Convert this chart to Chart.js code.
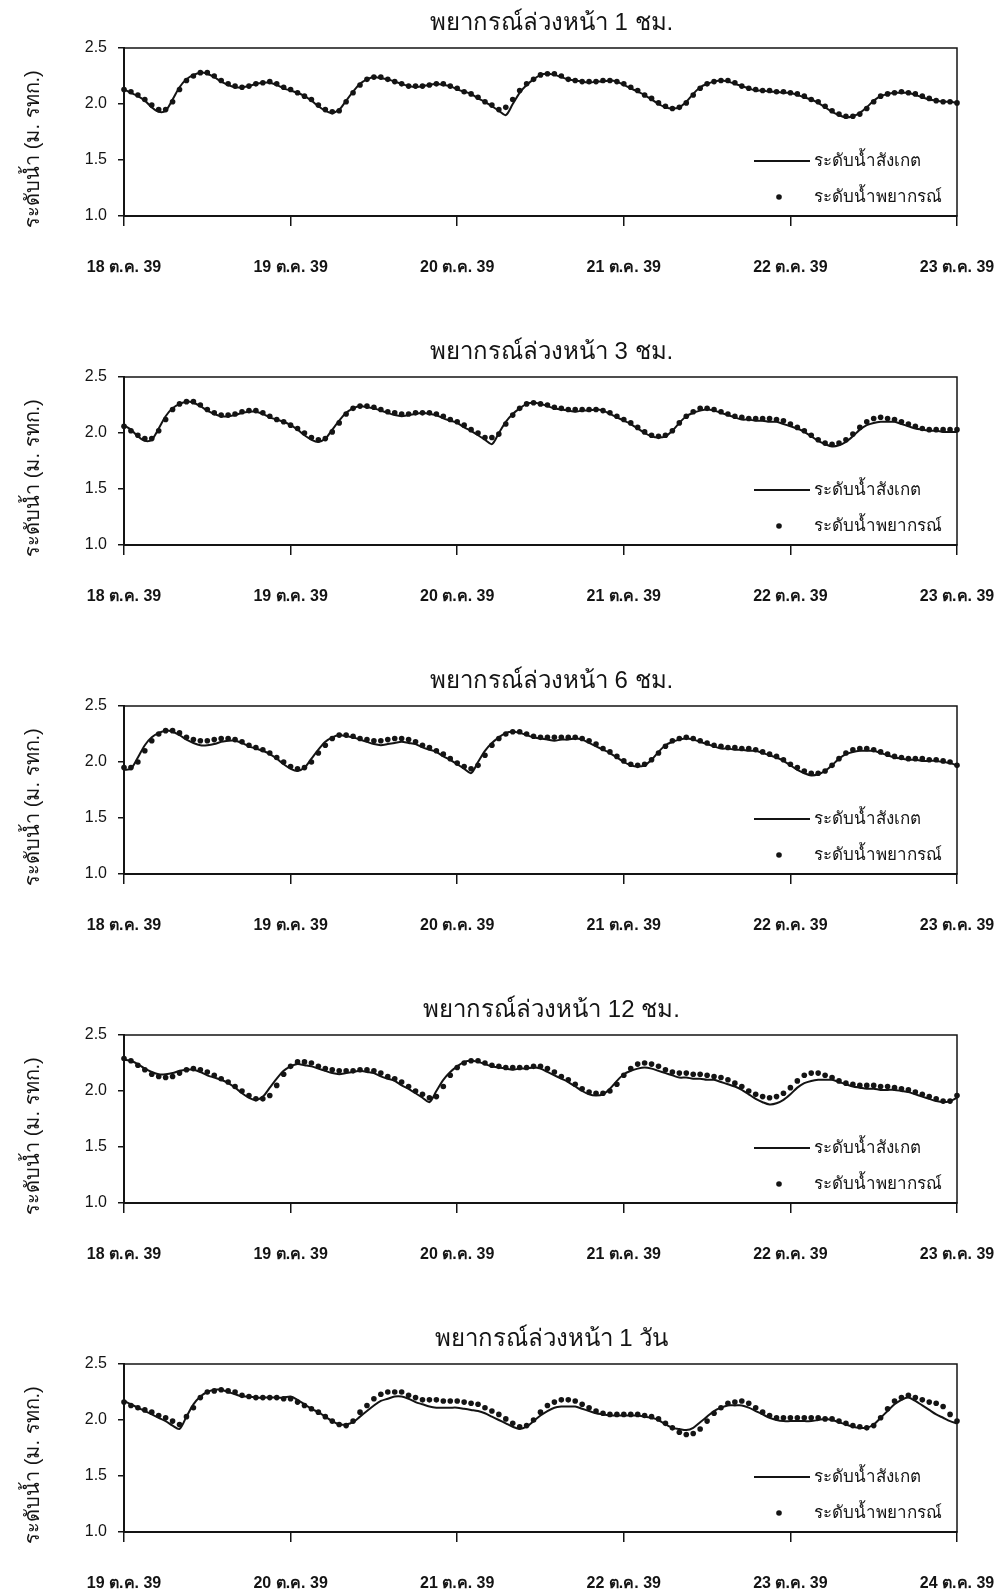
<!DOCTYPE html>
<html lang="th">
<head>
<meta charset="utf-8">
<title>ระดับน้ำสังเกตและพยากรณ์</title>
<script src="https://cdn.jsdelivr.net/npm/chart.js@4.4.1/dist/chart.umd.min.js"></script>
<style>
  body { margin: 0; background: #fff; }
  .panel { position: absolute; left: 0; width: 1008px; height: 329px; }
</style>
</head>
<body>
<div class="panel" style="top:0px"><canvas id="g1" width="1008" height="329"></canvas></div>
<div class="panel" style="top:329px"><canvas id="g2" width="1008" height="329"></canvas></div>
<div class="panel" style="top:658px"><canvas id="g3" width="1008" height="329"></canvas></div>
<div class="panel" style="top:987px"><canvas id="g4" width="1008" height="329"></canvas></div>
<div class="panel" style="top:1316px"><canvas id="g5" width="1008" height="329"></canvas></div>
<script>
// etiquetas de fecha (una por día, cada 24 horas)
const fechasA = ['18 ต.ค. 39', '19 ต.ค. 39', '20 ต.ค. 39', '21 ต.ค. 39', '22 ต.ค. 39', '23 ต.ค. 39'];
const fechasB = ['19 ต.ค. 39', '20 ต.ค. 39', '21 ต.ค. 39', '22 ต.ค. 39', '23 ต.ค. 39', '24 ต.ค. 39'];
const titulos = ['พยากรณ์ล่วงหน้า 1 ชม.', 'พยากรณ์ล่วงหน้า 3 ชม.', 'พยากรณ์ล่วงหน้า 6 ชม.', 'พยากรณ์ล่วงหน้า 12 ชม.', 'พยากรณ์ล่วงหน้า 1 วัน'];
const nombreObs = 'ระดับน้ำสังเกต';
const nombrePron = 'ระดับน้ำพยากรณ์';
const tituloY = 'ระดับน้ำ (ม. รทก.)';
const ticksY = [1.0, 1.5, 2.0, 2.5];

// valores horarios (121 puntos, 5 días)
const obs1 = [2.13,2.10,2.07,2.03,1.97,1.93,1.94,2.04,2.15,2.22,2.26,2.28,
  2.27,2.24,2.20,2.17,2.15,2.15,2.16,2.18,2.19,2.19,2.17,2.14,
  2.12,2.10,2.07,2.03,1.98,1.94,1.92,1.95,2.03,2.11,2.18,2.22,
  2.24,2.23,2.22,2.20,2.18,2.16,2.15,2.16,2.17,2.18,2.17,2.16,
  2.13,2.11,2.09,2.05,2.02,1.98,1.94,1.90,2.00,2.10,2.17,2.22,
  2.26,2.27,2.26,2.24,2.22,2.21,2.20,2.19,2.20,2.20,2.21,2.20,
  2.17,2.14,2.11,2.08,2.04,2.00,1.97,1.96,1.97,2.02,2.09,2.15,
  2.18,2.20,2.21,2.20,2.18,2.16,2.14,2.12,2.12,2.11,2.11,2.10,
  2.10,2.08,2.06,2.04,2.01,1.97,1.93,1.90,1.88,1.89,1.92,1.97,
  2.03,2.07,2.09,2.10,2.10,2.10,2.08,2.06,2.04,2.03,2.02,2.02,
  2.01];
const pron1 = [2.13,2.11,2.08,2.04,1.99,1.95,1.95,2.02,2.13,2.21,2.25,2.28,
  2.28,2.25,2.21,2.18,2.16,2.15,2.16,2.18,2.19,2.20,2.18,2.15,
  2.13,2.10,2.07,2.04,1.99,1.95,1.93,1.94,2.02,2.10,2.17,2.22,
  2.24,2.24,2.22,2.20,2.18,2.16,2.16,2.16,2.17,2.18,2.18,2.16,
  2.14,2.11,2.09,2.06,2.02,1.99,1.95,1.97,2.04,2.12,2.18,2.22,
  2.26,2.27,2.27,2.25,2.22,2.21,2.20,2.20,2.20,2.21,2.21,2.20,
  2.18,2.15,2.12,2.08,2.05,2.01,1.98,1.96,1.97,2.01,2.08,2.14,
  2.18,2.20,2.21,2.21,2.19,2.16,2.14,2.13,2.12,2.12,2.11,2.11,
  2.10,2.09,2.07,2.04,2.02,1.98,1.94,1.91,1.89,1.89,1.91,1.96,
  2.02,2.07,2.09,2.10,2.11,2.10,2.09,2.07,2.05,2.03,2.02,2.02,
  2.01];

const obs2 = [2.07,2.03,1.97,1.93,1.94,2.04,2.15,2.22,2.26,2.28,2.27,2.24,
  2.20,2.17,2.15,2.15,2.16,2.18,2.19,2.19,2.17,2.14,2.12,2.10,
  2.07,2.03,1.98,1.94,1.92,1.95,2.03,2.11,2.18,2.22,2.24,2.23,
  2.22,2.20,2.18,2.16,2.15,2.16,2.17,2.18,2.17,2.16,2.13,2.11,
  2.09,2.05,2.02,1.98,1.94,1.90,2.00,2.10,2.17,2.22,2.26,2.27,
  2.26,2.24,2.22,2.21,2.20,2.19,2.20,2.20,2.21,2.20,2.17,2.14,
  2.11,2.08,2.04,2.00,1.97,1.96,1.97,2.02,2.09,2.15,2.18,2.20,
  2.21,2.20,2.18,2.16,2.14,2.12,2.12,2.11,2.11,2.10,2.10,2.08,
  2.06,2.04,2.01,1.97,1.93,1.90,1.88,1.89,1.92,1.97,2.03,2.07,
  2.09,2.10,2.10,2.10,2.08,2.06,2.04,2.03,2.02,2.02,2.01,2.01,
  2.01];
const pron2 = [2.06,2.02,1.98,1.95,1.95,2.02,2.12,2.21,2.26,2.28,2.28,2.25,
  2.21,2.18,2.16,2.16,2.17,2.19,2.20,2.20,2.18,2.15,2.12,2.10,
  2.07,2.04,2.00,1.96,1.94,1.95,2.01,2.09,2.17,2.22,2.24,2.24,
  2.23,2.21,2.19,2.18,2.17,2.17,2.18,2.18,2.18,2.17,2.15,2.12,
  2.10,2.07,2.03,2.00,1.96,1.96,1.99,2.08,2.16,2.22,2.26,2.27,
  2.26,2.25,2.23,2.22,2.21,2.21,2.21,2.21,2.21,2.20,2.18,2.15,
  2.12,2.09,2.05,2.01,1.98,1.97,1.98,2.02,2.09,2.15,2.19,2.22,
  2.22,2.21,2.19,2.17,2.15,2.14,2.13,2.13,2.13,2.13,2.12,2.11,
  2.08,2.05,2.02,1.98,1.94,1.91,1.90,1.91,1.94,1.99,2.05,2.10,
  2.13,2.14,2.13,2.12,2.10,2.08,2.06,2.04,2.03,2.03,2.03,2.03,
  2.03];

const obs3 = [1.93,1.94,2.04,2.15,2.22,2.26,2.28,2.27,2.24,2.20,2.17,2.15,
  2.15,2.16,2.18,2.19,2.19,2.17,2.14,2.12,2.10,2.07,2.03,1.98,
  1.94,1.92,1.95,2.03,2.11,2.18,2.22,2.24,2.23,2.22,2.20,2.18,
  2.16,2.15,2.16,2.17,2.18,2.17,2.16,2.13,2.11,2.09,2.05,2.02,
  1.98,1.94,1.90,2.00,2.10,2.17,2.22,2.26,2.27,2.26,2.24,2.22,
  2.21,2.20,2.19,2.20,2.20,2.21,2.20,2.17,2.14,2.11,2.08,2.04,
  2.00,1.97,1.96,1.97,2.02,2.09,2.15,2.18,2.20,2.21,2.20,2.18,
  2.16,2.14,2.12,2.12,2.11,2.11,2.10,2.10,2.08,2.06,2.04,2.01,
  1.97,1.93,1.90,1.88,1.89,1.92,1.97,2.03,2.07,2.09,2.10,2.10,
  2.10,2.08,2.06,2.04,2.03,2.02,2.02,2.01,2.01,2.01,2.00,1.99,
  1.97];
const pron3 = [1.95,1.95,2.00,2.10,2.19,2.25,2.28,2.28,2.26,2.22,2.20,2.19,
  2.19,2.20,2.21,2.21,2.20,2.18,2.15,2.13,2.11,2.08,2.04,2.00,
  1.96,1.94,1.95,2.00,2.08,2.15,2.21,2.24,2.24,2.23,2.21,2.20,
  2.19,2.19,2.20,2.21,2.21,2.20,2.18,2.15,2.13,2.10,2.07,2.03,
  1.99,1.96,1.94,1.97,2.06,2.15,2.21,2.25,2.27,2.27,2.25,2.23,
  2.22,2.22,2.22,2.22,2.22,2.22,2.21,2.19,2.16,2.12,2.09,2.05,
  2.01,1.98,1.97,1.98,2.02,2.08,2.14,2.19,2.21,2.22,2.21,2.19,
  2.17,2.15,2.14,2.13,2.13,2.12,2.12,2.11,2.09,2.07,2.05,2.02,
  1.98,1.95,1.92,1.90,1.90,1.92,1.97,2.03,2.08,2.11,2.12,2.12,
  2.11,2.09,2.07,2.05,2.04,2.03,2.03,2.03,2.02,2.02,2.01,2.00,
  1.97];

const obs4 = [2.28,2.27,2.24,2.20,2.17,2.15,2.15,2.16,2.18,2.19,2.19,2.17,
  2.14,2.12,2.10,2.07,2.03,1.98,1.94,1.92,1.95,2.03,2.11,2.18,
  2.22,2.24,2.23,2.22,2.20,2.18,2.16,2.15,2.16,2.17,2.18,2.17,
  2.16,2.13,2.11,2.09,2.05,2.02,1.98,1.94,1.90,2.00,2.10,2.17,
  2.22,2.26,2.27,2.26,2.24,2.22,2.21,2.20,2.19,2.20,2.20,2.21,
  2.20,2.17,2.14,2.11,2.08,2.04,2.00,1.97,1.96,1.97,2.02,2.09,
  2.15,2.18,2.20,2.21,2.20,2.18,2.16,2.14,2.12,2.12,2.11,2.11,
  2.10,2.10,2.08,2.06,2.04,2.01,1.97,1.93,1.90,1.88,1.89,1.92,
  1.97,2.03,2.07,2.09,2.10,2.10,2.10,2.08,2.06,2.04,2.03,2.02,
  2.02,2.01,2.01,2.01,2.00,1.99,1.97,1.95,1.93,1.91,1.90,1.91,
  1.94];
const pron4 = [2.29,2.27,2.23,2.19,2.15,2.13,2.12,2.13,2.16,2.19,2.20,2.19,
  2.17,2.14,2.11,2.08,2.04,2.00,1.96,1.93,1.93,1.96,2.05,2.15,
  2.22,2.26,2.26,2.25,2.22,2.20,2.19,2.18,2.18,2.18,2.19,2.19,
  2.18,2.16,2.13,2.11,2.08,2.04,2.00,1.97,1.94,1.95,2.04,2.14,
  2.21,2.25,2.27,2.27,2.25,2.23,2.22,2.21,2.21,2.21,2.21,2.22,
  2.22,2.20,2.17,2.13,2.10,2.06,2.02,1.99,1.98,1.98,2.00,2.06,
  2.14,2.20,2.24,2.25,2.24,2.22,2.19,2.17,2.16,2.16,2.15,2.15,
  2.14,2.13,2.12,2.10,2.07,2.04,2.00,1.97,1.95,1.94,1.95,1.98,
  2.03,2.09,2.14,2.16,2.16,2.14,2.12,2.09,2.07,2.06,2.05,2.05,
  2.05,2.04,2.04,2.03,2.02,2.01,1.99,1.97,1.95,1.93,1.91,1.91,
  1.96];

const obs5 = [2.17,2.14,2.11,2.08,2.05,2.02,1.99,1.95,1.92,2.03,2.14,2.21,
  2.25,2.27,2.27,2.25,2.23,2.21,2.21,2.20,2.20,2.20,2.20,2.20,
  2.21,2.18,2.14,2.10,2.07,2.03,1.99,1.96,1.96,1.98,2.03,2.08,
  2.13,2.17,2.19,2.21,2.21,2.19,2.16,2.14,2.12,2.11,2.11,2.11,
  2.11,2.10,2.09,2.08,2.06,2.03,2.00,1.97,1.94,1.92,1.94,1.99,
  2.04,2.08,2.11,2.12,2.12,2.12,2.10,2.08,2.06,2.05,2.04,2.04,
  2.04,2.04,2.04,2.03,2.02,2.00,1.96,1.93,1.92,1.91,1.93,1.98,
  2.03,2.08,2.11,2.13,2.13,2.13,2.11,2.08,2.05,2.02,2.00,1.99,
  1.99,1.99,1.99,1.99,2.00,2.01,2.00,1.98,1.96,1.94,1.93,1.93,
  1.96,2.02,2.08,2.14,2.18,2.20,2.17,2.13,2.09,2.05,2.02,1.99,
  1.97];
const pron5 = [2.16,2.13,2.11,2.09,2.07,2.04,2.02,1.99,1.96,2.03,2.11,2.20,
  2.25,2.26,2.27,2.26,2.25,2.22,2.21,2.20,2.20,2.20,2.20,2.19,
  2.19,2.16,2.13,2.10,2.07,2.03,1.99,1.96,1.95,1.99,2.07,2.13,
  2.19,2.23,2.25,2.25,2.25,2.22,2.20,2.18,2.18,2.18,2.17,2.17,
  2.17,2.16,2.15,2.14,2.11,2.08,2.05,2.01,1.97,1.94,1.95,2.00,
  2.07,2.13,2.16,2.18,2.18,2.17,2.14,2.11,2.08,2.06,2.05,2.05,
  2.05,2.05,2.05,2.04,2.03,2.01,1.97,1.93,1.89,1.87,1.88,1.92,
  1.99,2.06,2.11,2.15,2.16,2.17,2.15,2.11,2.07,2.04,2.02,2.02,
  2.02,2.02,2.02,2.02,2.02,2.01,2.01,1.99,1.97,1.95,1.94,1.93,
  1.95,2.02,2.10,2.17,2.20,2.22,2.20,2.18,2.16,2.15,2.12,2.05,
  1.99];

const fuente = "'Liberation Sans', 'Noto Sans', Arial, sans-serif";
const negro = '#141414';

// marco, títulos y leyenda dibujados alrededor del área del gráfico
const extras = {
  id: 'extras',
  afterDraw(chart, args, opts) {
    const { ctx, chartArea: a } = chart;
    ctx.save();
    ctx.strokeStyle = negro;
    ctx.lineWidth = 1.5;
    ctx.strokeRect(a.left, a.top, a.right - a.left, a.bottom - a.top);

    ctx.fillStyle = negro;
    ctx.textAlign = 'center';
    ctx.textBaseline = 'middle';
    ctx.font = '24px ' + fuente;
    ctx.fillText(opts.titulo, (a.left + a.right) / 2 + 11, a.top - 25);

    // título del eje Y (girado)
    ctx.save();
    ctx.translate(33, (a.top + a.bottom) / 2 + 17);
    ctx.rotate(-Math.PI / 2);
    ctx.font = '20px ' + fuente;
    ctx.fillText(tituloY, 0, 0);
    ctx.restore();

    // leyenda
    ctx.font = '17px ' + fuente;
    ctx.textAlign = 'left';
    const y1 = a.bottom - 55, y2 = a.bottom - 19;
    ctx.lineWidth = 2;
    ctx.beginPath();
    ctx.moveTo(a.right - 203, y1);
    ctx.lineTo(a.right - 147, y1);
    ctx.stroke();
    ctx.fillText(nombreObs, a.right - 143, y1);
    ctx.beginPath();
    ctx.arc(a.right - 178, y2, 2.8, 0, Math.PI * 2);
    ctx.fill();
    ctx.fillText(nombrePron, a.right - 143, y2);
    ctx.restore();
  }
};

function crearGrafica(id, titulo, fechas, observado, pronostico) {
  return new Chart(document.getElementById(id), {
    type: 'line',
    data: {
      datasets: [
        {
          label: nombreObs,
          data: observado.map((v, i) => ({ x: i, y: v })),
          borderColor: negro,
          borderWidth: 2,
          pointRadius: 0,
          tension: 0.3,
          fill: false,
          clip: 4
        },
        {
          label: nombrePron,
          data: pronostico.map((v, i) => ({ x: i, y: v })),
          showLine: false,
          pointRadius: 2.8,
          pointBorderWidth: 0,
          pointBackgroundColor: negro,
          clip: 5
        }
      ]
    },
    options: {
      responsive: false,
      animation: false,
      layout: { padding: { top: 48, right: 51, bottom: 43, left: 0 } },
      plugins: {
        legend: { display: false },
        tooltip: { enabled: false },
        extras: { titulo: titulo }
      },
      scales: {
        x: {
          type: 'linear',
          min: 0,
          max: 120,
          afterBuildTicks: (s) => { s.ticks = fechas.map((f, i) => ({ value: i * 24 })); },
          afterFit: (s) => { s.height = 70; s.paddingLeft = 0; s.paddingRight = 0; },
          ticks: {
            autoSkip: false,
            maxRotation: 0,
            padding: 32,
            color: negro,
            font: { size: 16, weight: '600', family: fuente },
            callback: (v) => fechas[Math.round(v / 24)]
          },
          grid: { drawOnChartArea: false, tickLength: 10, color: negro, lineWidth: 1.5 },
          border: { color: negro, width: 2 }
        },
        y: {
          min: 1.0,
          max: 2.5,
          afterBuildTicks: (s) => { s.ticks = ticksY.map(v => ({ value: v })); },
          afterFit: (s) => { s.width = 124; s.paddingTop = 0; s.paddingBottom = 0; },
          ticks: {
            padding: 11,
            color: negro,
            font: { size: 16, family: fuente },
            callback: (v) => v.toFixed(1)
          },
          grid: { drawOnChartArea: false, tickLength: 6, color: negro, lineWidth: 1.5 },
          border: { color: negro, width: 2 }
        }
      }
    },
    plugins: [extras]
  });
}

crearGrafica('g1', titulos[0], fechasA, obs1, pron1);
crearGrafica('g2', titulos[1], fechasA, obs2, pron2);
crearGrafica('g3', titulos[2], fechasA, obs3, pron3);
crearGrafica('g4', titulos[3], fechasA, obs4, pron4);
crearGrafica('g5', titulos[4], fechasB, obs5, pron5);
</script>
</body>
</html>
